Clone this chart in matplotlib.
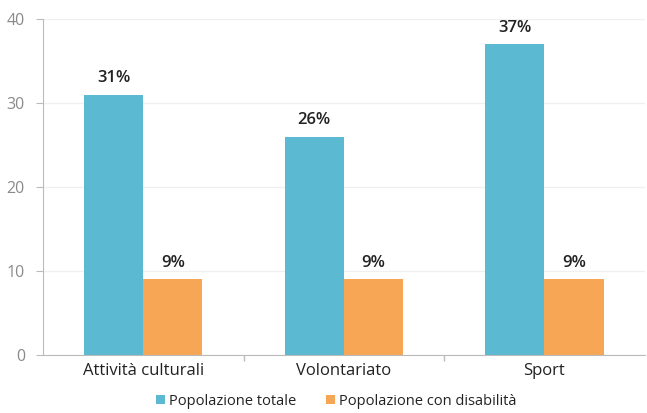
import matplotlib
matplotlib.use("Agg")
import matplotlib.pyplot as plt
import numpy as np

categories = ["Attività culturali", "Volontariato", "Sport"]
series_names = ["Popolazione totale", "Popolazione con disabilità"]
totale = [31, 26, 37]
disabili = [9, 9, 9]
yticks = [0, 10, 20, 30, 40]

blue = "#5BB9D1"
orange = "#F7A656"

plt.rcParams['font.family'] = ['Open Sans', 'DejaVu Sans']

fig = plt.figure(figsize=(6.47, 4.13), dpi=100)
ax = fig.add_axes([0.0665, 0.1404, 0.930, 0.8136])

x = np.arange(len(categories))
w = 0.295
b1 = ax.bar(x - w / 2, totale, w, color=blue, label=series_names[0])
b2 = ax.bar(x + w / 2, disabili, w, color=orange, label=series_names[1])

for bars, vals in ((b1, totale), (b2, disabili)):
    for r, v in zip(bars, vals):
        ax.text(r.get_x() + r.get_width() / 2, v + 1.0, f"{v}%", ha="center", va="bottom",
                fontsize=12, color="#222222", fontweight="semibold")

ax.set_xlim(-0.5, len(categories) - 0.5)
ax.set_ylim(0, 40)
ax.set_yticks(yticks)
ax.set_yticklabels([str(t) for t in yticks], color="#8a8a8a", fontsize=11.5)
ax.set_xticks(x)
ax.set_xticklabels(categories, fontsize=12, color="#222222")
ax.set_xticks(np.arange(len(categories) - 1) + 0.5, minor=True)
ax.tick_params(axis="x", which="major", length=0, pad=6)
ax.tick_params(axis="x", which="minor", length=4, color="#bbbbbb", width=1)
ax.tick_params(axis="y", length=5, color="#bbbbbb", pad=8)
ax.grid(axis="y", color="#f0f0f0", linewidth=1)
ax.set_axisbelow(True)
for s in ("top", "right"):
    ax.spines[s].set_visible(False)
for s in ("left", "bottom"):
    ax.spines[s].set_color("#bbbbbb")

fig.legend(handles=[b1, b2], labels=series_names, loc="lower center", ncol=2,
           bbox_to_anchor=(0.52, -0.022), frameon=False, fontsize=10.5,
           handlelength=0.6, handleheight=0.6, handletextpad=0.3, columnspacing=2.0,
           labelcolor="#222222")

fig.savefig("out.png", dpi=100)
